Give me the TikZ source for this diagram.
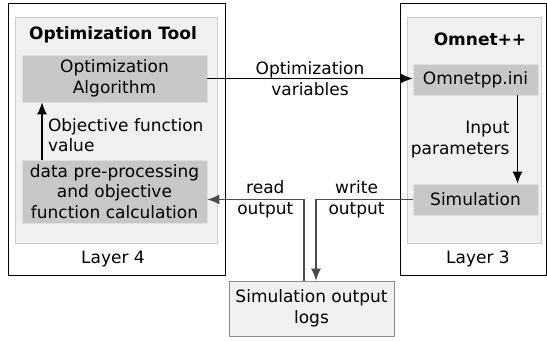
\documentclass[tikz,border=0pt]{standalone}
\usepackage{fontspec}
\setmainfont{DejaVu Sans}
\usetikzlibrary{arrows.meta,positioning}

\begin{document}
\begin{tikzpicture}[x=1pt, y=1pt, >={Latex[length=12pt,width=10pt]}, font=\fontsize{17}{20.5}\selectfont]
      \tikzstyle{layer}=[draw, line width=0.9pt, inner sep=0pt]
      \tikzstyle{inner}=[draw=black!20, fill=black!6, line width=0.7pt, inner sep=0pt]
      \tikzstyle{block}=[draw=black!12, fill=black!22, line width=0.7pt, align=center, inner sep=0pt]
      \tikzstyle{flow}=[->, line width=1.4pt]
      \tikzstyle{ioflow}=[->, line width=1.4pt, black!70]
      \useasboundingbox (0,0) rectangle (547,341);
      % layer 4
      \node[layer, minimum width=217pt, minimum height=272pt] (l4) at (116.5,202) {};
      \node[inner, minimum width=202pt, minimum height=226pt] (tool) at (116,211) {};
      \node[font=\fontsize{17}{20.5}\bfseries] (tooltitle) at (113,306) {Optimization Tool};
      \node[block, minimum width=185pt, minimum height=47pt] (alg) at (114.5,262.5) {Optimization\\Algorithm};
      \node[block, minimum width=185pt, minimum height=63pt] (data) at (114.5,149.5) {data pre-processing\\and objective\\function calculation};
      \node (l4name) at (113,82) {Layer 4};
      % layer 3
      \node[layer, minimum width=146pt, minimum height=272pt] (l3) at (473,202) {};
      \node[inner, minimum width=134pt, minimum height=226pt] (omnet) at (474,211) {};
      \node[font=\fontsize{17}{20.5}\bfseries] (omnettitle) at (480,302) {Omnet++};
      \node[block, minimum width=125pt, minimum height=31pt] (ini) at (475.5,261.5) {Omnetpp.ini};
      \node[block, minimum width=125pt, minimum height=31pt] (sim) at (475.5,141.5) {Simulation};
      \node (l3name) at (478,82) {Layer 3};
      % logs
      \node[draw=black!45, fill=black!6, line width=0.7pt, align=center, minimum width=165pt, minimum height=55pt, inner sep=0pt] (logs) at (311.5,32.5) {Simulation output\\logs};
      % connectors
      \draw[flow] (alg.east) -- (alg.east -| ini.west)
        node[midway, align=center] {Optimization\\variables};
      \draw[flow] ([xshift=42pt]ini.south) -- ([xshift=42pt]sim.north)
        node[midway, left=4pt, align=right] {Input\\parameters};
      \draw[flow] ([xshift=-72.5pt]data.north) -- ([xshift=-72.5pt]alg.south)
        node[midway, right=2pt, align=left, yshift=-4pt] {Objective function\\value};
      \draw[ioflow] (sim.west) -| ([xshift=4.5pt]logs.north)
        node[pos=0.29, align=center, text=black] {write\\output};
      \draw[ioflow] ([xshift=-7.5pt]logs.north) |- (data.east |- sim.west)
        node[pos=0.70, align=center, text=black] {read\\output};
\end{tikzpicture}
\end{document}
